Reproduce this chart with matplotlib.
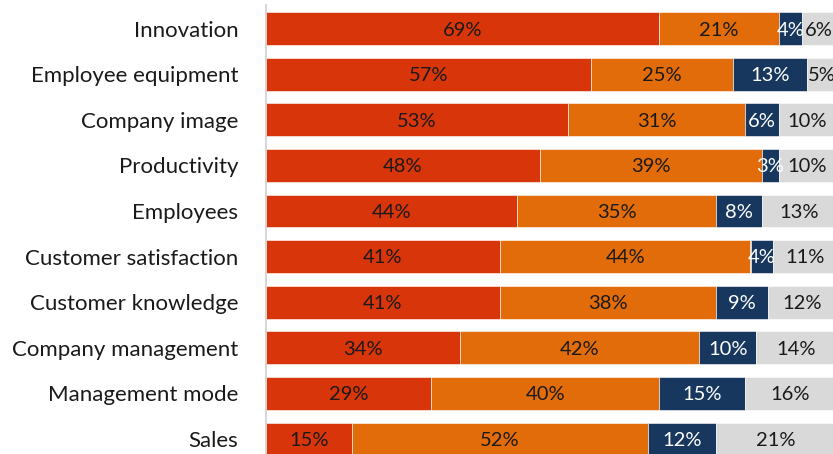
import numpy as np
import matplotlib.pyplot as plt

categories = ["Innovation", "Employee equipment", "Company image", "Productivity",
              "Employees", "Customer satisfaction", "Customer knowledge",
              "Company management", "Management mode", "Sales"]
s1 = [69, 57, 53, 48, 44, 41, 41, 34, 29, 15]
s2 = [21, 25, 31, 39, 35, 44, 38, 42, 40, 52]
s3 = [4, 13, 6, 3, 8, 4, 9, 10, 15, 12]
s4 = [6, 5, 10, 10, 13, 11, 12, 14, 16, 21]

series = [s1, s2, s3, s4]
colors = ["#D9350B", "#E36C0A", "#17375E", "#D9D9D9"]
text_colors = ["#1a1a1a", "#1a1a1a", "white", "#1a1a1a"]

plt.rcParams["font.family"] = ["Lato", "DejaVu Sans"]

fig = plt.figure(figsize=(8.33, 4.54), dpi=100)
ax = fig.add_axes([266 / 833, 0, 570 / 833, 449 / 454])

y = np.arange(len(categories))
left = np.zeros(len(categories))
for vals, c, tc in zip(series, colors, text_colors):
    vals = np.array(vals, dtype=float)
    ax.barh(y, vals, left=left, height=0.72, color=c, edgecolor="white", linewidth=0.4)
    for yi, l, v in zip(y, left, vals):
        ax.text(l + v / 2, yi + 0.03, f"{int(v)}%", ha="center", va="center",
                fontsize=14.5, color=tc)
    left += vals

ax.set_xlim(0, 100)
ax.set_ylim(9.33, -0.52)
ax.set_yticks(y)
ax.set_yticklabels(categories, fontsize=16, color="#1a1a1a")
ax.tick_params(axis="y", length=0, pad=20)
ax.set_xticks([])
for s in ["top", "right", "bottom"]:
    ax.spines[s].set_visible(False)
ax.spines["left"].set_color("#D0D0D0")
ax.spines["left"].set_linewidth(1.2)

fig.savefig("out.png", dpi=100)
